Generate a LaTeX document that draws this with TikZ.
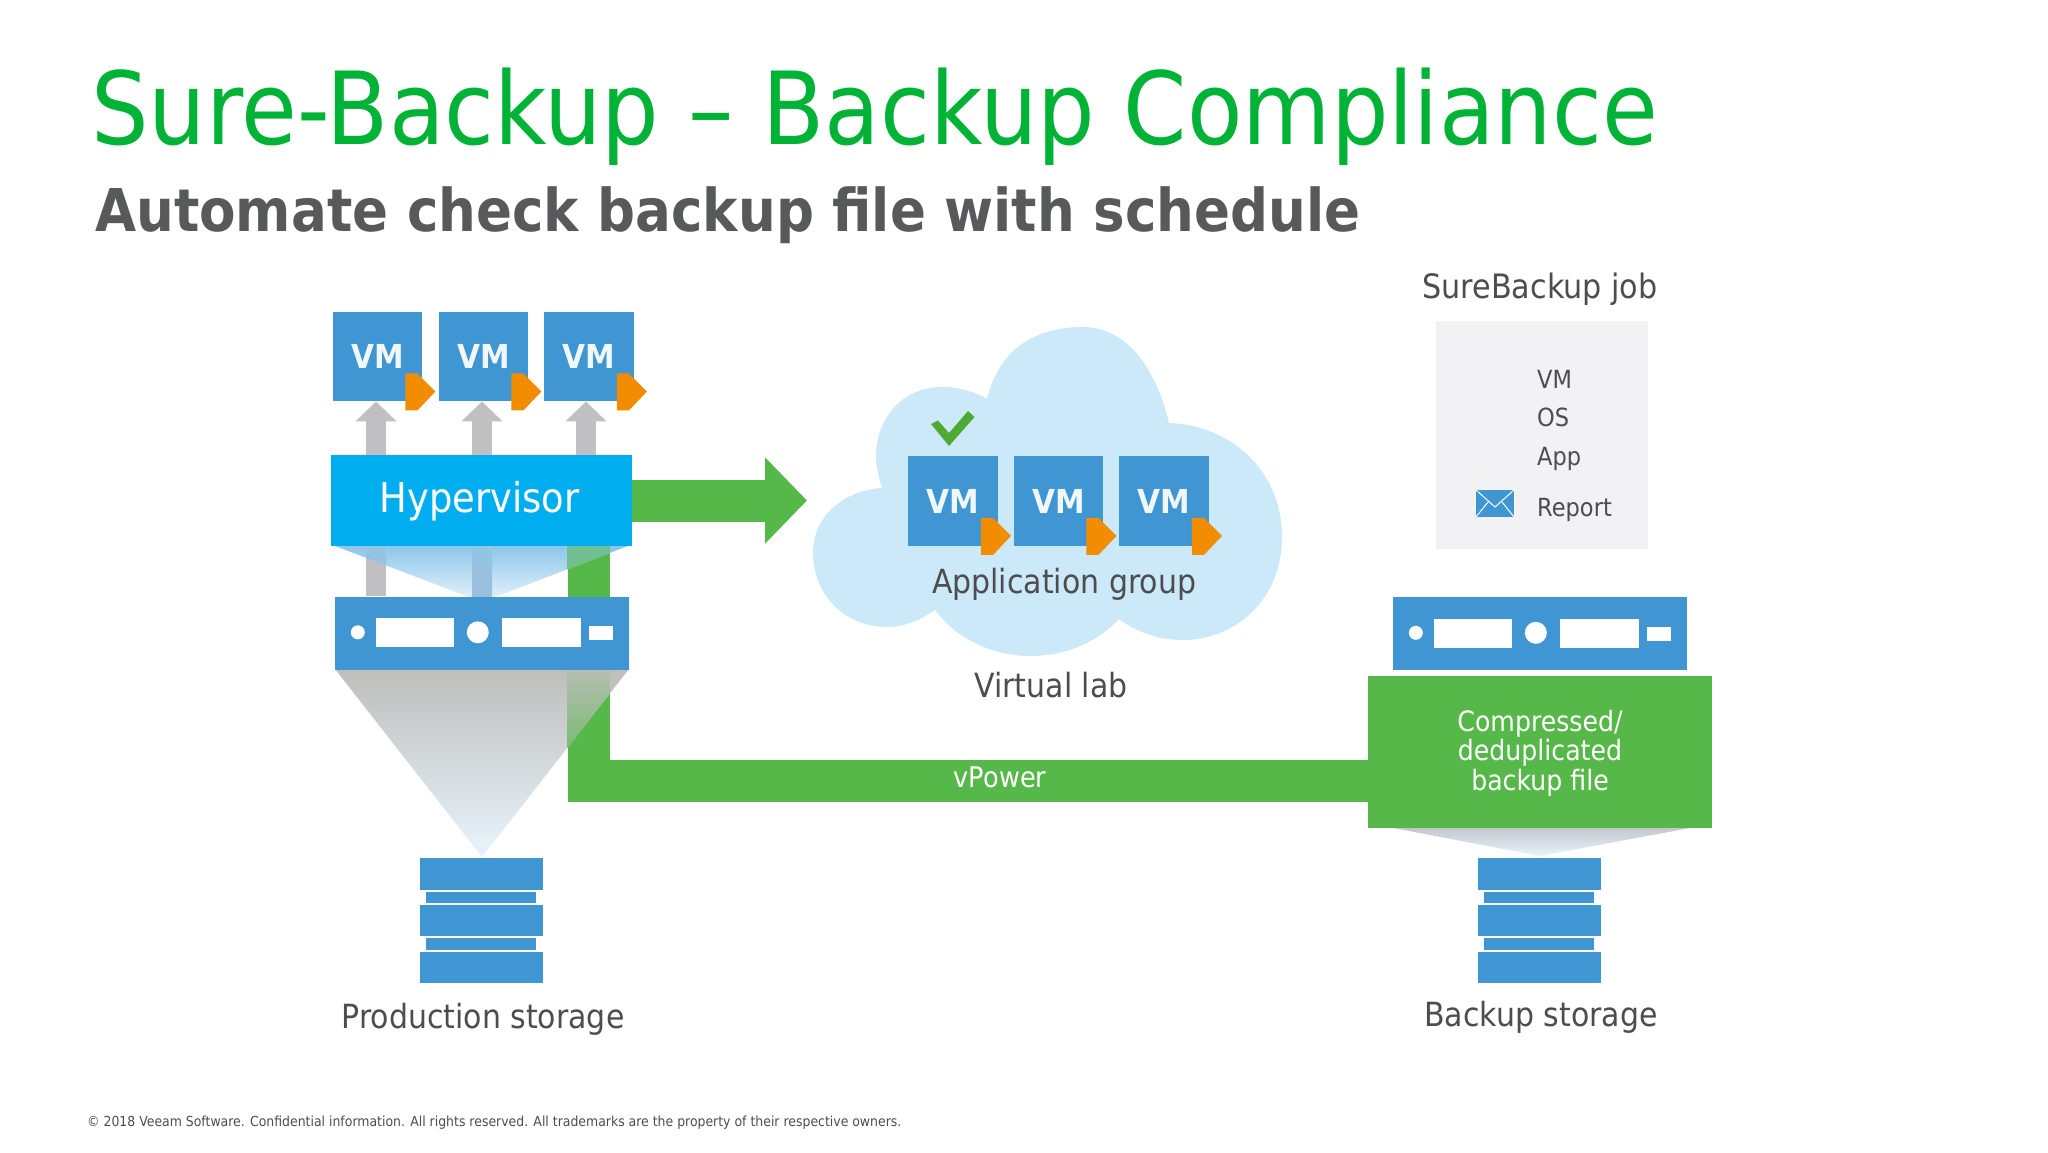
\documentclass[tikz,border=0pt]{standalone}
\usepackage{fontspec}
\setmainfont{DejaVu Sans}[FakeStretch=0.9]
\usetikzlibrary{arrows.meta,backgrounds}

\definecolor{vmblue}{HTML}{3F96D2}
\definecolor{hypblue}{HTML}{00AEEF}
\definecolor{badge}{HTML}{F28C00}
\definecolor{pipegreen}{HTML}{57B84A}
\definecolor{titlegreen}{HTML}{00B336}
\definecolor{checkgreen}{HTML}{4FAA35}
\definecolor{cloudblue}{HTML}{CBE9F8}
\definecolor{greyarrow}{HTML}{C0BFC1}
\definecolor{textgrey}{HTML}{4D4D4F}
\definecolor{subgrey}{HTML}{58595B}
\definecolor{jobgrey}{HTML}{F2F2F4}
\definecolor{palefunnel}{HTML}{E8F4FC}
\definecolor{funnelsky}{HTML}{8CC6EA}
\definecolor{funnelgrey}{HTML}{BEBEBC}
\definecolor{funnelmid}{HTML}{C8D7E8}

\tikzset{
  vmsty/.style={fill=vmblue, text=white!92!vmblue, inner sep=0pt, minimum width=89.5pt,
    minimum height=89.5pt, font=\fontsize{33}{36}\selectfont\bfseries},
  srvsty/.style={fill=vmblue, inner sep=0pt, minimum width=294pt, minimum height=73pt},
  lbl/.style={inner sep=0pt, anchor=base, text=textgrey, font=\fontsize{33.3}{36}\selectfont},
  joblbl/.style={inner sep=0pt, anchor=base west, text=textgrey, font=\fontsize{25}{28}\selectfont},
  uparrow/.style={draw=greyarrow, line width=20pt, -{Triangle[length=20pt,width=40pt]}},
  pipe/.style={draw=pipegreen, line width=42pt, miter limit=10},
}

\newcommand{\vmbox}[3]{%
  \node[vmsty] (#1) at (#2,#3) {VM};
  \fill[badge,shift={(#1.south east)}] (-17,-28) -- (-5,-28) -- (13,-10) -- (-5,9) -- (-17,9) -- cycle;
}
\newcommand{\srvbox}[3]{%
  \node[srvsty] (#1) at (#2,#3) {};
  \begin{scope}[shift={(#1.north west)}]
    \fill[white] (23,36) circle (7);
    \fill[white] (41,22) rectangle (119,51);
    \fill[white] (143,36) circle (11);
    \fill[white] (167,22) rectangle (246,51);
    \fill[white] (254,30) rectangle (278,44);
  \end{scope}
}
\newcommand{\stackbox}[2]{%
  \begin{scope}[shift={(#1,#2)}]
    \fill[vmblue] (0,0) rectangle (123,32);
    \fill[vmblue] (6,33.5) rectangle (116,45);
    \fill[vmblue] (0,47) rectangle (123,78);
    \fill[vmblue] (6,80) rectangle (116,92);
    \fill[vmblue] (0,94) rectangle (123,125);
  \end{scope}
}

\begin{document}
\begin{tikzpicture}[x=1pt,y=-1pt]
    \useasboundingbox (0,0) rectangle (2048,1152);

    % ------ Titles -----------
    \node[inner sep=0pt, anchor=base west, text=titlegreen, font=\fontsize{100.8}{110}\selectfont] (Title) at (91,144) {Sure-Backup – Backup Compliance};
    \node[inner sep=0pt, anchor=base west, text=subgrey, font=\fontsize{59}{66}\selectfont\bfseries] (Subtitle) at (95,231) {Automate check backup file with schedule};

    % ------ Cloud -----------
    \fill[cloudblue] (987,399) .. controls (1000,345) and (1040,327) .. (1083,327)
      .. controls (1125,327) and (1155,365) .. (1169,423)
      .. controls (1230,425) and (1282,470) .. (1282,537)
      .. controls (1282,600) and (1235,640) .. (1183,640)
      .. controls (1160,640) and (1138,633) .. (1119,619)
      .. controls (1100,640) and (1068,656) .. (1031,656)
      .. controls (990,656) and (955,637) .. (935,610)
      .. controls (920,620) and (905,627) .. (887,627)
      .. controls (845,627) and (813,595) .. (813,553)
      .. controls (813,515) and (845,490) .. (882,488)
      .. controls (878,475) and (876,465) .. (876,457)
      .. controls (876,415) and (905,387) .. (942,387)
      .. controls (960,387) and (975,392) .. (987,399) -- cycle;

    % ------ Production side -----------
    \node[fill=hypblue, text=white, inner sep=0pt, minimum width=301pt, minimum height=91pt,
      text height=30pt, text depth=7pt, font=\fontsize{41}{44}\selectfont] (Hyp) at (481.5,500.5) {\hspace*{-4pt}Hypervisor};
    \srvbox{Srv1}{482}{633}
    \vmbox{V1}{377.5}{356.5}
    \vmbox{V2}{483.5}{356.5}
    \vmbox{V3}{589}{356.5}
    \stackbox{420}{858}
    \node[lbl] (Prod) at (483,1028) {Production storage};

    % ------ Virtual lab -----------
    \vmbox{L1}{953}{501}
    \vmbox{L2}{1058.5}{501}
    \vmbox{L3}{1164}{501}
    \fill[checkgreen] (931,424) -- (938,420.5) -- (949,433) -- (968,411) -- (974.5,417) -- (949,446) -- cycle;
    \node[lbl] (Group) at (1064,593) {Application group};
    \node[lbl] (Lab) at (1051,697) {Virtual lab};

    % ------ SureBackup job -----------
    \node[lbl, font=\fontsize{33.6}{36}\selectfont] (Job) at (1540,298) {SureBackup job};
    \node[fill=jobgrey, inner sep=0pt, minimum width=212pt, minimum height=228pt] (JobBox) at (1542,435) {};
    \node[joblbl] (TVM) at (1537,388) {VM};
    \node[joblbl] (TOS) at (1537,426) {OS};
    \node[joblbl] (TApp) at (1537,465) {App};
    \node[joblbl] (TRep) at (1537,516) {Report};
    \node[fill=vmblue, inner sep=0pt, minimum width=38pt, minimum height=27pt] (Mail) at (1495,503.5) {};
    \draw[white, line width=1pt] (Mail.north west) -- (1495,507) -- (Mail.north east);
    \draw[white, line width=1pt] (Mail.south west) -- (1488,502);
    \draw[white, line width=1pt] (Mail.south east) -- (1502,502);

    % ------ Backup side -----------
    \srvbox{Srv2}{1540}{633.5}
    \node[fill=pipegreen, text=white, inner sep=0pt, minimum width=344pt, minimum height=152pt,
      align=center, font=\fontsize{28}{29.5}\selectfont] (BkFile) at (1540,751.5) {\rule{0pt}{24pt}Compressed/\\deduplicated\\backup file};
    \stackbox{1478}{858}
    \node[lbl] (Bk) at (1541,1026) {Backup storage};

    % ------ Flows, behind the boxes -----------
    \coordinate (U1) at ([xshift=-1.5pt]V1.south);
    \coordinate (U2) at ([xshift=-1.5pt]V2.south);
    \coordinate (U3) at ([xshift=-3pt]V3.south);
    \coordinate (PipeTop) at (588.5,546);
    \coordinate (PipeEnd) at (1368,781);
    \coordinate (ArrowTip) at (807,500.5);
    \node[inner sep=0pt, anchor=base, text=white, font=\fontsize{28.4}{30}\selectfont] (VP) at (1000,787) {vPower};
    \begin{scope}[on background layer]
      \draw[uparrow] (Srv1.north -| U1) -- (U1);
      \draw[uparrow] (Srv1.north -| U2) -- (U2);
      \draw[uparrow] (Srv1.north -| U3) -- (U3);
      \draw[pipe] (PipeTop) |- (PipeEnd);
      \draw[pipe, -{Triangle[length=42pt,width=84pt]}] (Hyp.east) -- (ArrowTip);
      % funnel under the hypervisor
      \begin{scope}
        \clip (335,546) -- (628,546) -- (482,602) -- cycle;
        \shade[top color=funnelsky, bottom color=palefunnel] (335,546) rectangle (628,602);
        \shade[top color=funnelsky!85!greyarrow, bottom color=funnelmid!60!vmblue!80!greyarrow] (366,546) rectangle (386,602);
        \shade[top color=funnelsky!85!greyarrow, bottom color=funnelmid!60!vmblue!80!greyarrow] (472,546) rectangle (492,602);
        \shade[top color=funnelsky!50!pipegreen, bottom color=palefunnel!15!pipegreen] (567,546) rectangle (610,602);
      \end{scope}
      % funnel under the server
      \begin{scope}
        \clip (335,669) -- (629,669) -- (482,857) -- cycle;
        \shade[top color=funnelgrey, middle color=funnelmid, bottom color=palefunnel] (335,669) rectangle (629,857);
        \shade[top color=funnelgrey!92!pipegreen, bottom color=pipegreen!65!funnelgrey] (567,669) rectangle (610,750);
      \end{scope}
      \shade[top color=funnelgrey!60!funnelmid, bottom color=palefunnel] (1393,828) -- (1690,828) -- (1540,856) -- cycle;
    \end{scope}

    % ------ Footer -----------
    \node[inner sep=0pt, anchor=base west, text=textgrey, font=\fontsize{13.85}{16}\selectfont] (Foot) at (87,1126) {© 2018 Veeam Software. Confidential information. All rights reserved. All trademarks are the property of their respective owners.};
\end{tikzpicture}
\end{document}
